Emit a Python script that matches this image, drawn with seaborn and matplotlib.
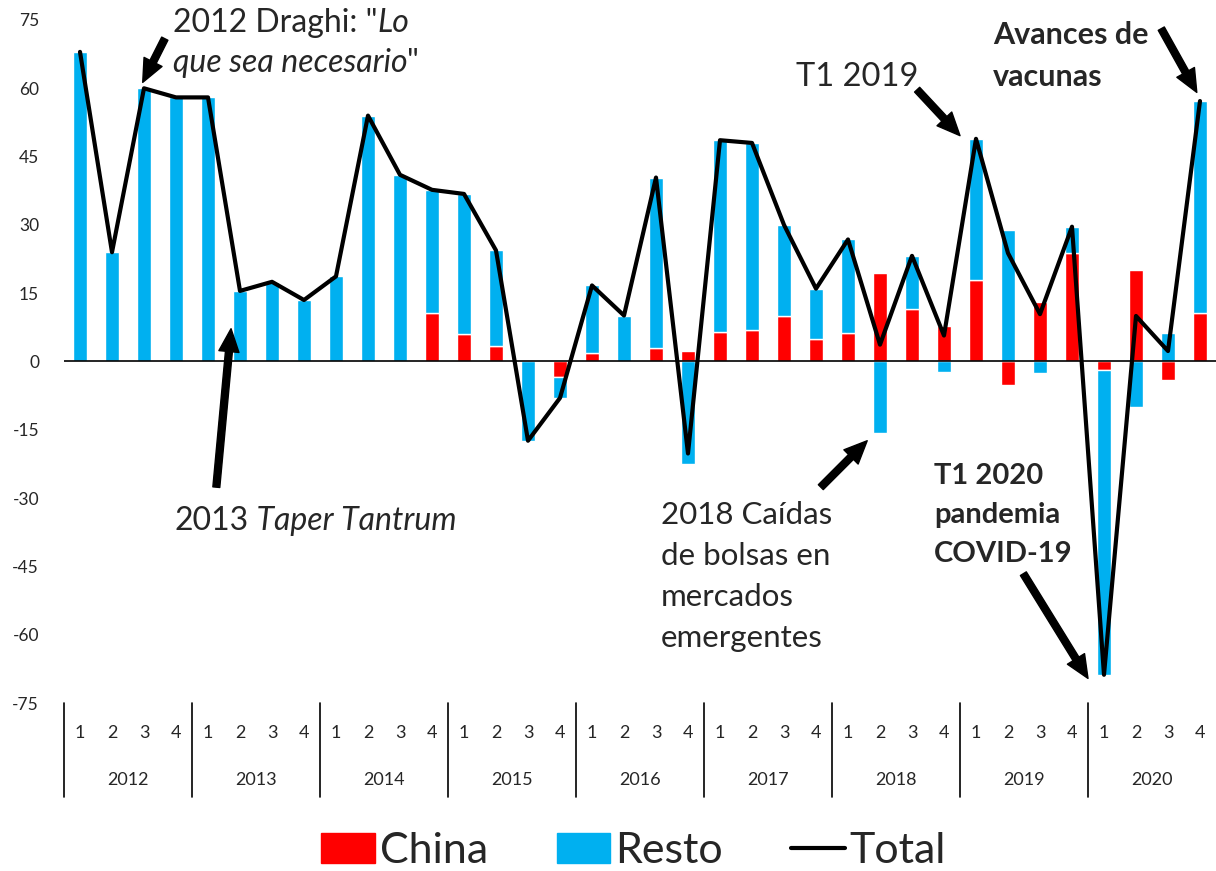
import matplotlib
matplotlib.use('Agg')
import matplotlib.pyplot as plt
import matplotlib.transforms as mtransforms
from matplotlib.patches import Patch
from matplotlib.lines import Line2D
import numpy as np
import pandas as pd
import seaborn as sns

# Data, quarterly 2012-2020
years = ['2012', '2013', '2014', '2015', '2016', '2017', '2018', '2019', '2020']
quarters = ['1', '2', '3', '4']
china = [0, 0, 0, 0, 0, 0, 0, 0, 0, 0, 0, 10.7,
         6.0, 3.4, 0, -3.4, 1.8, 0, 2.9, 2.3, 6.4, 7.0, 10.1, 4.9,
         6.2, 19.4, 11.6, 7.9, 18.0, -5.1, 13.0, 23.8, -1.8, 20.0, -4.0, 10.6]
resto = [68, 24, 60, 58, 58, 15.5, 17.5, 13.5, 18.7, 54, 41, 27,
         30.8, 21, -17.4, -4.6, 14.9, 10.1, 37.5, -22.5, 42.2, 41, 19.9, 11.1,
         20.6, -15.7, 11.6, -2.2, 30.9, 28.9, -2.6, 5.8, -67, -10, 6.3, 46.6]

RED = '#FF0000'
BLUE = '#00B0F0'

sns.set_style('white')
plt.rcParams['font.family'] = ['Lato', 'DejaVu Sans']
plt.rcParams['axes.unicode_minus'] = False

df = pd.DataFrame({'pos': range(len(china)), 'china': china, 'resto': resto})
df['total'] = df['china'] + df['resto']
# excel-style stacking: positive and negative parts stack separately
df['resto_base'] = np.where(df['china'] * df['resto'] > 0, df['china'], 0)

fig = plt.figure(figsize=(12.16, 8.71), dpi=100)
ax = fig.add_axes([64 / 1216, 168 / 871, 1152 / 1216, 683 / 871])

sns.barplot(data=df, x='pos', y='china', color=RED, saturation=1, width=0.41,
            errorbar=None, ax=ax)
sns.barplot(data=df, x='pos', y='resto', color=BLUE, saturation=1, width=0.41,
            errorbar=None, bottom=df['resto_base'].values, ax=ax)
sns.lineplot(data=df, x='pos', y='total', color='black', lw=3, ax=ax)
ax.axhline(0, color='black', lw=1.2)

ax.set_xlim(-0.5, 35.5)
ax.set_ylim(-75, 75)
ax.set_yticks(range(-75, 76, 15))
ax.set_xticks([])
ax.set_xlabel('')
ax.set_ylabel('')
ax.tick_params(axis='y', length=0, pad=18, labelsize=12.5)
sns.despine(ax=ax, left=True, bottom=True)

# two-level category axis
trans = mtransforms.blended_transform_factory(ax.transData, ax.transAxes)
for i in range(len(china)):
    ax.text(i, -0.044, quarters[i % 4], transform=trans, ha='center', va='center', fontsize=13)
for j, yr in enumerate(years):
    ax.text(j * 4 + 1.5, -0.113, yr, transform=trans, ha='center', va='center', fontsize=13)
    ax.plot([j * 4 - 0.5] * 2, [0, -0.1376], transform=trans, color='black', lw=1.2, clip_on=False)


def arrow(tail, head):
    ax.annotate('', xy=head, xytext=tail, annotation_clip=False,
                arrowprops=dict(arrowstyle='simple,head_length=1.65,head_width=1.45,tail_width=0.5',
                                color='black', mutation_scale=10, shrinkA=0, shrinkB=0))


def rich(x, y, pieces, size=23):
    t = ax.text(x, y, pieces[0][0], style=pieces[0][1], fontsize=size, va='baseline')
    for s, st in pieces[1:]:
        t = ax.annotate(s, xy=(1, 0), xycoords=t, style=st, fontsize=size, va='bottom')


def lines(x, y0, texts, size=23, step=9.0, weight='normal'):
    for k, s in enumerate(texts):
        ax.text(x, y0 - k * step, s, fontsize=size, va='baseline', weight=weight)


# annotations
rich(2.9, 72.3, [('2012 Draghi: "', 'normal'), ('Lo', 'italic')])
rich(2.9, 63.5, [('que sea necesario', 'italic'), ('"', 'normal')])
arrow((2.65, 70.9), (1.96, 61.3))

rich(2.96, -36.9, [('2013', 'normal'), (' Taper Tantrum', 'italic')])
arrow((4.26, -27.6), (4.72, 7.2))

lines(18.16, -35.6, ['2018 Caídas', 'de bolsas en', 'mercados', 'emergentes'], size=22.5)
arrow((23.15, -27.6), (24.6, -17.4))

lines(22.36, 60.4, ['T1 2019'], size=23.5)
arrow((26.16, 59.7), (27.5, 49.6))

lines(28.53, 69.8, ['Avances de', 'vacunas'], size=22, step=9.2, weight='bold')
arrow((33.79, 73.1), (34.9, 59.1))

lines(26.69, -26.8, ['T1 2020', 'pandemia', 'COVID-19'], size=21, step=8.6, weight='bold')
arrow((29.48, -46.6), (31.5, -69.6))

handles = [Patch(color=RED), Patch(color=BLUE), Line2D([], [], color='black', lw=3)]
fig.legend(handles, ['China', 'Resto', 'Total'], loc='center', bbox_to_anchor=(0.521, 0.023),
           ncol=3, frameon=False, fontsize=31, handlelength=1.25, handleheight=0.7,
           handletextpad=0.1, columnspacing=1.6, borderaxespad=0)

fig.savefig('out.png', dpi=100)
